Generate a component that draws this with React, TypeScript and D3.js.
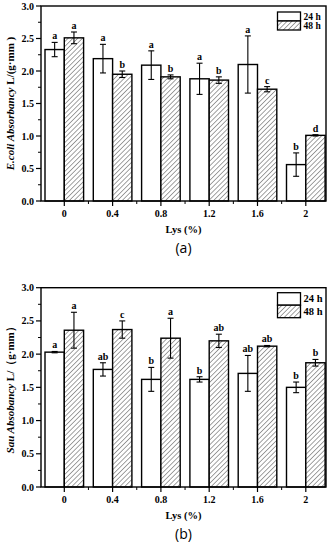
import React from 'react'
import * as d3 from 'd3'

const categories = ['0', '0.4', '0.8', '1.2', '1.6', '2']
const seriesNames = ['24 h', '48 h']
const yTicks = [0, 0.5, 1, 1.5, 2, 2.5, 3]

const ecoli24 = [2.33, 2.19, 2.09, 1.88, 2.1, 0.56]
const ecoli24Err = [0.11, 0.22, 0.22, 0.24, 0.44, 0.18]
const ecoli48 = [2.51, 1.95, 1.91, 1.86, 1.72, 1.01]
const ecoli48Err = [0.09, 0.05, 0.03, 0.05, 0.04, 0.01]
const ecoli24Sig = ['a', 'a', 'a', 'a', 'a', 'b']
const ecoli48Sig = ['a', 'b', 'b', 'b', 'c', 'd']

const sau24 = [2.03, 1.77, 1.62, 1.62, 1.71, 1.5]
const sau24Err = [0.01, 0.1, 0.18, 0.04, 0.27, 0.08]
const sau48 = [2.36, 2.37, 2.24, 2.2, 2.12, 1.87]
const sau48Err = [0.27, 0.13, 0.3, 0.1, 0.01, 0.05]
const sau24Sig = ['a', 'ab', 'b', 'b', 'ab', 'b']
const sau48Sig = ['a', 'c', 'a', 'ab', 'ab', 'b']

const serif = '"Liberation Serif", "Times New Roman", serif'
const left = 41
const right = 326
const barW = 19.3

type PanelProps = {
  top: number
  bottom: number
  v24: number[]
  e24: number[]
  v48: number[]
  e48: number[]
  s24: string[]
  s48: string[]
  yItalic: string
  yUnit: string
  panel: string
  legendBox: number
  legendFont: number
}

function Panel(props: PanelProps) {
  const { top, bottom } = props
  const y = d3.scaleLinear().domain([0, 3]).range([bottom, top])
  const x = d3.scalePoint<string>().domain(categories).range([64.3, 305.8])
  const step = x.step()
  const minorY = d3.range(0.25, 3, 0.5)
  const minorX = categories.slice(0, -1).map((c) => (x(c) as number) + step / 2)
  const series = [
    { v: props.v24, e: props.e24, s: props.s24, dx: -barW, fill: '#fff' },
    { v: props.v48, e: props.e48, s: props.s48, dx: 0, fill: 'url(#hatch)' },
  ]
  const lx = 277.5
  const ly = top + (props.legendBox > 10 ? 5 : 6)
  const lb = props.legendBox

  return (
    <g>
      {series.map((sr, si) => (
        <g key={si}>
          {categories.map((c, i) => {
            const x0 = (x(c) as number) + sr.dx
            const cx = x0 + barW / 2
            const yt = y(sr.v[i] + sr.e[i])
            const yb = y(sr.v[i] - sr.e[i])
            return (
              <g key={c}>
                <rect x={x0} y={y(sr.v[i])} width={barW} height={bottom - y(sr.v[i])}
                  fill={sr.fill} stroke="#000" strokeWidth={1.4} />
                <line x1={cx} x2={cx} y1={yt} y2={yb} stroke="#000" strokeWidth={1.1} />
                <line x1={cx - 3} x2={cx + 3} y1={yt} y2={yt} stroke="#000" strokeWidth={1.1} />
                <line x1={cx - 3} x2={cx + 3} y1={yb} y2={yb} stroke="#000" strokeWidth={1.1} />
                <text x={cx} y={yt - 3} textAnchor="middle" fontFamily={serif} fontWeight="bold"
                  fontSize={10}>{sr.s[i]}</text>
              </g>
            )
          })}
        </g>
      ))}
      <rect x={left} y={top} width={right - left} height={bottom - top} fill="none"
        stroke="#000" strokeWidth={1.4} />
      {yTicks.map((t) => (
        <g key={t}>
          <line x1={left - 5} x2={left} y1={y(t)} y2={y(t)} stroke="#000" strokeWidth={1.2} />
          <text x={left - 7} y={y(t) + 3.5} textAnchor="end" fontFamily={serif} fontWeight="bold"
            fontSize={10}>{t.toFixed(1)}</text>
        </g>
      ))}
      {minorY.map((t) => (
        <line key={t} x1={left - 3} x2={left} y1={y(t)} y2={y(t)} stroke="#000" strokeWidth={1} />
      ))}
      {categories.map((c) => (
        <g key={c}>
          <line x1={x(c)} x2={x(c)} y1={bottom} y2={bottom + 5} stroke="#000" strokeWidth={1.2} />
          <text x={x(c)} y={bottom + 16} textAnchor="middle" fontFamily={serif} fontWeight="bold"
            fontSize={10}>{c}</text>
        </g>
      ))}
      {minorX.map((m) => (
        <line key={m} x1={m} x2={m} y1={bottom} y2={bottom + 3} stroke="#000" strokeWidth={1} />
      ))}
      <text x={(left + right) / 2} y={bottom + 32} textAnchor="middle" fontFamily={serif}
        fontWeight="bold" fontSize={10.5}>Lys (%)</text>
      <text transform={`translate(14,${(top + bottom) / 2}) rotate(-90)`} textAnchor="middle"
        fontFamily={serif} fontWeight="bold" fontSize={11}>
        <tspan fontStyle="italic">{props.yItalic}</tspan>
        <tspan>{props.yUnit}</tspan>
      </text>
      <text x={(left + right) / 2} y={bottom + 52} textAnchor="middle"
        fontFamily='"Open Sans", "Liberation Sans", sans-serif' fontSize={14}>{props.panel}</text>
      {seriesNames.map((n, i) => (
        <g key={n}>
          <rect x={lx} y={ly + i * lb} width={23} height={lb} fill={i ? 'url(#hatch)' : '#fff'}
            stroke="#000" strokeWidth={1.3} />
          <text x={lx + 26} y={ly + i * lb + lb / 2 + 3.5} fontFamily={serif} fontWeight="bold"
            fontSize={props.legendFont}>{n}</text>
        </g>
      ))}
    </g>
  )
}

export default function App() {
  return (
    <svg width={333} height={550} style={{ position: 'absolute', left: 0, top: 0, background: '#fff' }}>
      <defs>
        <pattern id="hatch" patternUnits="userSpaceOnUse" width={3.4} height={3.4}
          patternTransform="rotate(45)">
          <rect width={3.4} height={3.4} fill="#fff" />
          <line x1={0} x2={0} y1={0} y2={3.4} stroke="#444" strokeWidth={1} />
        </pattern>
      </defs>
      <Panel top={6} bottom={201} v24={ecoli24} e24={ecoli24Err} v48={ecoli48} e48={ecoli48Err}
        s24={ecoli24Sig} s48={ecoli48Sig} yItalic="E.coli Absorbancy" yUnit=" L/(g·mm )"
        panel="(a)" legendBox={9} legendFont={9.5} />
      <Panel top={287.7} bottom={487} v24={sau24} e24={sau24Err} v48={sau48} e48={sau48Err}
        s24={sau24Sig} s48={sau48Sig} yItalic="Sau Absobancy" yUnit=" L/（g·mm）"
        panel="(b)" legendBox={12.5} legendFont={10.5} />
    </svg>
  )
}
